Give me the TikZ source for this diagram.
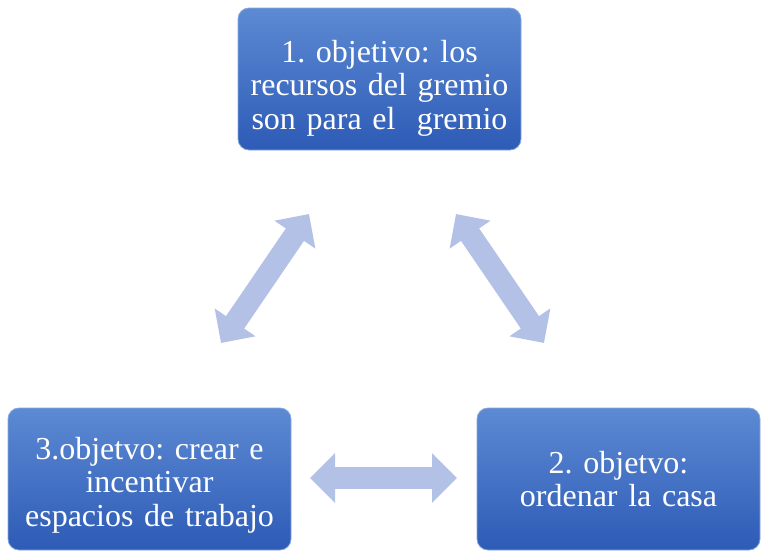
\documentclass[tikz,border=0pt]{standalone}
\usepackage{fontspec}
\setmainfont{Liberation Serif}
\frenchspacing
\definecolor{goaltop}{HTML}{5D8AD3}
\definecolor{goalbottom}{HTML}{2D5BB6}
\definecolor{goaledge}{HTML}{86A6E0}
\definecolor{linkblue}{HTML}{B4C1E6}
\usetikzlibrary{arrows.meta, calc}
\tikzset{
	goalnode/.style={
			rectangle,
			rounded corners=11pt,
			draw=goaledge,
			thick,
			top color=goaltop,
			bottom color=goalbottom,
			minimum width=283pt,
			minimum height=142pt,
			text width=275pt,
			align=center,
			text=white,
			font=\fontsize{32}{33.5}\selectfont,
			inner sep=0pt
		},
	linkarrow/.style={
			draw=linkblue,
			line width=22pt,
			{Triangle[width=48pt,length=25pt]}-{Triangle[width=48pt,length=25pt]}
		}
}

\begin{document}
\begin{tikzpicture}[x=1pt, y=-1pt]
\useasboundingbox (0,0) rectangle (768,552);

\node[goalnode, text height=40pt] (goal1) at (379.5,79)  { 1. objetivo: los\\ recursos del gremio\\ son para el\ \ gremio };
\node[goalnode] (goal2) at (618.5,479) { 2. objetvo:\\ ordenar la casa };
\node[goalnode, text height=34pt] (goal3) at (149.5,479) { 3.objetvo: crear e\\ incentivar\\ espacios de trabajo };

% ends of the arrows
\coordinate (l13a) at (309,214);
\coordinate (l13b) at (221,343);
\coordinate (l12a) at (456,214);
\coordinate (l12b) at (544,343);
\coordinate (l23a) at (310,478);
\coordinate (l23b) at (457,478);

\draw[linkarrow] (l13a) -- (l13b);
\draw[linkarrow] (l12a) -- (l12b);
\draw[linkarrow] (l23a) -- (l23b);

\end{tikzpicture}
\end{document}
